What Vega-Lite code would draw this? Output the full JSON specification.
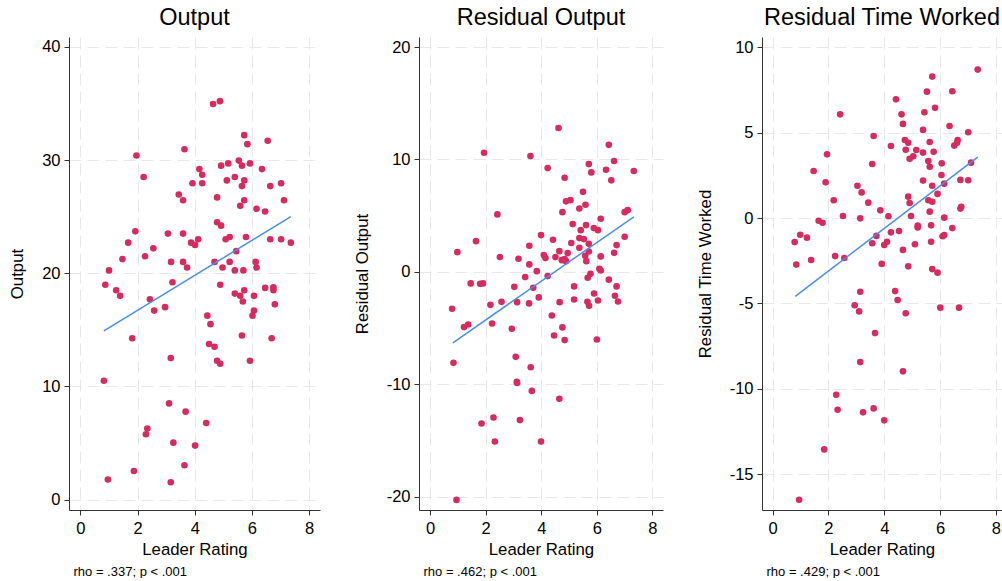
{
  "$schema": "https://vega.github.io/schema/vega-lite/v6.json",
  "padding": {"left": 9, "top": 5, "right": 0, "bottom": 0},
  "background": "white",
  "spacing": 34,
  "config": {
    "font": "Liberation Sans",
    "view": {"stroke": null},
    "axis": {
      "domainColor": "#333333",
      "tickColor": "#333333",
      "tickSize": 5,
      "labelFontSize": 16.5,
      "titleFontSize": 16.8,
      "labelColor": "#000000",
      "titleColor": "#000000",
      "titleFontWeight": "normal",
      "gridColor": "#e8e8e8",
      "gridDash": [12, 6],
      "gridWidth": 1,
      "labelExpr": "'' + datum.value"
    },
    "axisX": {"labelPadding": 5, "titlePadding": 5},
    "axisY": {"labelPadding": 4, "titlePadding": 15, "labelFlush": false},
    "title": {"fontSize": 23.5, "fontWeight": "normal", "color": "#000000", "anchor": "middle", "frame": "group", "offset": 8}
  },
  "datasets": {
    "p1": [
      {"x": 4.64, "y": 34.95}, {"x": 4.88, "y": 35.2}, {"x": 5.73, "y": 32.2}, {"x": 5.84, "y": 31.4}, {"x": 6.55, "y": 31.7},
      {"x": 3.64, "y": 30.95}, {"x": 1.96, "y": 30.4}, {"x": 5.54, "y": 29.95}, {"x": 5.17, "y": 29.7}, {"x": 4.92, "y": 29.5},
      {"x": 5.65, "y": 29.5}, {"x": 5.93, "y": 29.7}, {"x": 4.16, "y": 29.2}, {"x": 6.35, "y": 29.2}, {"x": 4.26, "y": 28.7},
      {"x": 2.21, "y": 28.5}, {"x": 5.12, "y": 28.2}, {"x": 5.4, "y": 28.5}, {"x": 5.73, "y": 28.2}, {"x": 3.92, "y": 27.95},
      {"x": 4.26, "y": 27.95}, {"x": 5.65, "y": 27.7}, {"x": 6.64, "y": 27.7}, {"x": 7.02, "y": 27.95}, {"x": 3.44, "y": 26.95},
      {"x": 3.59, "y": 26.45}, {"x": 4.78, "y": 26.7}, {"x": 5.73, "y": 26.45}, {"x": 7.12, "y": 26.45}, {"x": 5.59, "y": 25.95},
      {"x": 6.16, "y": 25.7}, {"x": 6.46, "y": 25.45}, {"x": 4.78, "y": 24.5}, {"x": 4.92, "y": 24.2}, {"x": 1.92, "y": 23.7},
      {"x": 3.06, "y": 23.5}, {"x": 3.59, "y": 23.5}, {"x": 5.08, "y": 23.0}, {"x": 5.22, "y": 23.2}, {"x": 5.79, "y": 23.2},
      {"x": 6.64, "y": 23.0}, {"x": 7.02, "y": 23.0}, {"x": 7.36, "y": 22.7}, {"x": 1.67, "y": 22.7}, {"x": 3.87, "y": 22.7},
      {"x": 4.01, "y": 22.5}, {"x": 4.12, "y": 23.0}, {"x": 2.55, "y": 22.2}, {"x": 5.45, "y": 21.95}, {"x": 2.26, "y": 21.5},
      {"x": 1.47, "y": 21.25}, {"x": 3.17, "y": 21.0}, {"x": 3.59, "y": 21.0}, {"x": 3.73, "y": 20.5}, {"x": 4.69, "y": 21.0},
      {"x": 5.22, "y": 21.0}, {"x": 6.13, "y": 21.0}, {"x": 6.16, "y": 20.5}, {"x": 4.97, "y": 20.5}, {"x": 5.4, "y": 20.25},
      {"x": 5.7, "y": 20.25}, {"x": 1.0, "y": 20.25}, {"x": 3.22, "y": 19.2}, {"x": 0.87, "y": 18.98}, {"x": 1.25, "y": 18.5},
      {"x": 1.39, "y": 18.0}, {"x": 2.43, "y": 17.7}, {"x": 2.58, "y": 16.7}, {"x": 2.96, "y": 17.0}, {"x": 4.89, "y": 18.98},
      {"x": 5.4, "y": 18.2}, {"x": 5.59, "y": 18.0}, {"x": 5.73, "y": 18.5}, {"x": 5.68, "y": 17.5}, {"x": 6.07, "y": 18.0},
      {"x": 6.46, "y": 18.7}, {"x": 6.75, "y": 18.75}, {"x": 6.75, "y": 18.5}, {"x": 6.8, "y": 17.25}, {"x": 6.07, "y": 16.7},
      {"x": 6.02, "y": 16.25}, {"x": 4.44, "y": 16.25}, {"x": 4.55, "y": 15.5}, {"x": 5.65, "y": 14.5}, {"x": 6.69, "y": 14.25},
      {"x": 1.81, "y": 14.25}, {"x": 4.5, "y": 13.75}, {"x": 4.69, "y": 13.5}, {"x": 3.16, "y": 12.5}, {"x": 4.78, "y": 12.27},
      {"x": 4.89, "y": 12.0}, {"x": 5.93, "y": 12.27}, {"x": 0.82, "y": 10.5}, {"x": 3.1, "y": 8.5}, {"x": 3.68, "y": 7.77},
      {"x": 4.4, "y": 6.77}, {"x": 2.34, "y": 6.27}, {"x": 2.29, "y": 5.77}, {"x": 3.25, "y": 5.03}, {"x": 4.01, "y": 4.77},
      {"x": 3.64, "y": 3.03}, {"x": 1.87, "y": 2.53}, {"x": 0.96, "y": 1.77}, {"x": 3.16, "y": 1.53}
    ],
    "p2": [
      {"x": 4.62, "y": 12.8}, {"x": 6.43, "y": 11.3}, {"x": 1.94, "y": 10.6}, {"x": 3.61, "y": 10.3}, {"x": 6.62, "y": 9.86},
      {"x": 5.71, "y": 9.59}, {"x": 4.23, "y": 9.23}, {"x": 6.33, "y": 9.08}, {"x": 5.8, "y": 8.85}, {"x": 7.33, "y": 8.97},
      {"x": 4.84, "y": 8.37}, {"x": 6.52, "y": 8.14}, {"x": 5.5, "y": 7.12}, {"x": 4.89, "y": 6.27}, {"x": 5.05, "y": 6.38},
      {"x": 5.59, "y": 5.97}, {"x": 5.37, "y": 5.64}, {"x": 4.76, "y": 5.31}, {"x": 2.42, "y": 5.11}, {"x": 7.0, "y": 5.31},
      {"x": 7.11, "y": 5.49}, {"x": 6.14, "y": 4.72}, {"x": 5.13, "y": 4.25}, {"x": 5.61, "y": 4.16}, {"x": 5.89, "y": 3.89},
      {"x": 6.04, "y": 3.71}, {"x": 5.42, "y": 3.71}, {"x": 3.99, "y": 3.27}, {"x": 4.42, "y": 2.85}, {"x": 5.37, "y": 3.0},
      {"x": 5.53, "y": 2.91}, {"x": 1.65, "y": 2.73}, {"x": 5.08, "y": 2.56}, {"x": 5.71, "y": 2.49}, {"x": 3.57, "y": 2.32},
      {"x": 5.37, "y": 2.14}, {"x": 6.71, "y": 2.38}, {"x": 0.98, "y": 1.75}, {"x": 4.65, "y": 1.84}, {"x": 5.71, "y": 1.81},
      {"x": 4.95, "y": 1.66}, {"x": 6.62, "y": 1.69}, {"x": 4.09, "y": 1.49}, {"x": 2.51, "y": 1.31}, {"x": 4.51, "y": 1.31},
      {"x": 4.15, "y": 1.22}, {"x": 3.18, "y": 1.16}, {"x": 4.84, "y": 1.13}, {"x": 4.74, "y": 1.04}, {"x": 4.89, "y": 0.95},
      {"x": 5.58, "y": 1.43}, {"x": 6.14, "y": 1.37}, {"x": 5.62, "y": 0.95}, {"x": 3.57, "y": 0.66}, {"x": 7.0, "y": 3.12},
      {"x": 3.84, "y": 0.06}, {"x": 6.09, "y": 0.27}, {"x": 6.14, "y": 0.12}, {"x": 3.42, "y": -0.47}, {"x": 4.23, "y": -0.38},
      {"x": 5.77, "y": -0.18}, {"x": 5.67, "y": -0.53}, {"x": 6.43, "y": -0.7},
      {"x": 1.46, "y": -1.03}, {"x": 1.8, "y": -1.07}, {"x": 1.9, "y": -1.03}, {"x": 3.03, "y": -1.34}, {"x": 3.71, "y": -1.42},
      {"x": 5.18, "y": -1.3}, {"x": 6.71, "y": -1.3}, {"x": 5.9, "y": -1.93}, {"x": 6.65, "y": -2.13}, {"x": 6.76, "y": -2.64},
      {"x": 6.04, "y": -2.55}, {"x": 5.66, "y": -2.67}, {"x": 5.72, "y": -3.02}, {"x": 5.18, "y": -2.46}, {"x": 4.66, "y": -2.7},
      {"x": 3.91, "y": -2.28}, {"x": 3.56, "y": -2.81}, {"x": 3.13, "y": -2.7}, {"x": 2.57, "y": -2.67}, {"x": 2.17, "y": -2.94},
      {"x": 0.79, "y": -3.29}, {"x": 1.22, "y": -4.92}, {"x": 1.37, "y": -4.69}, {"x": 2.23, "y": -4.6}, {"x": 2.94, "y": -5.07},
      {"x": 4.38, "y": -3.89}, {"x": 4.76, "y": -4.95}, {"x": 4.46, "y": -5.67}, {"x": 4.84, "y": -6.08}, {"x": 6.0, "y": -6.02},
      {"x": 0.84, "y": -8.1}, {"x": 3.08, "y": -7.57}, {"x": 3.62, "y": -8.49}, {"x": 3.12, "y": -9.8}, {"x": 3.13, "y": -9.9},
      {"x": 3.66, "y": -10.6}, {"x": 4.65, "y": -11.3}, {"x": 2.28, "y": -12.97}, {"x": 1.85, "y": -13.5}, {"x": 3.23, "y": -13.2},
      {"x": 2.33, "y": -15.1}, {"x": 3.99, "y": -15.1}, {"x": 0.95, "y": -20.3}
    ],
    "p3": [
      {"x": 7.35, "y": 8.69}, {"x": 5.72, "y": 8.28}, {"x": 5.53, "y": 7.4}, {"x": 6.44, "y": 7.42}, {"x": 4.42, "y": 6.95},
      {"x": 2.42, "y": 6.07}, {"x": 4.62, "y": 6.07}, {"x": 5.82, "y": 6.46}, {"x": 5.44, "y": 6.19}, {"x": 4.67, "y": 5.51},
      {"x": 6.34, "y": 5.39}, {"x": 5.39, "y": 5.16}, {"x": 7.01, "y": 5.02}, {"x": 3.62, "y": 4.8}, {"x": 4.74, "y": 4.57},
      {"x": 4.86, "y": 4.41}, {"x": 5.63, "y": 4.45}, {"x": 6.63, "y": 4.57}, {"x": 6.61, "y": 4.41}, {"x": 6.51, "y": 4.24},
      {"x": 4.24, "y": 4.22}, {"x": 5.15, "y": 3.98}, {"x": 4.77, "y": 4.0}, {"x": 5.39, "y": 3.83}, {"x": 5.77, "y": 3.88},
      {"x": 5.04, "y": 3.61}, {"x": 4.91, "y": 3.47}, {"x": 5.58, "y": 3.34}, {"x": 5.63, "y": 3.0}, {"x": 1.95, "y": 3.73},
      {"x": 3.57, "y": 3.16}, {"x": 6.06, "y": 3.2}, {"x": 7.11, "y": 3.24}, {"x": 1.47, "y": 2.75}, {"x": 6.05, "y": 2.52},
      {"x": 6.73, "y": 2.23}, {"x": 7.01, "y": 2.21}, {"x": 5.39, "y": 2.19}, {"x": 1.9, "y": 2.09}, {"x": 6.15, "y": 2.01},
      {"x": 5.72, "y": 1.89}, {"x": 3.04, "y": 1.89}, {"x": 3.19, "y": 1.5}, {"x": 5.91, "y": 1.41}, {"x": 4.86, "y": 1.25},
      {"x": 2.19, "y": 1.04}, {"x": 3.43, "y": 0.9}, {"x": 4.91, "y": 0.88}, {"x": 5.58, "y": 1.04}, {"x": 5.72, "y": 0.95},
      {"x": 6.76, "y": 0.66}, {"x": 6.73, "y": 0.55}, {"x": 3.86, "y": 0.45}, {"x": 5.63, "y": 0.37}, {"x": 2.52, "y": 0.12},
      {"x": 4.15, "y": 0.1}, {"x": 4.96, "y": 0.12}, {"x": 3.14, "y": -0.02}, {"x": 6.15, "y": 0.02}, {"x": 1.65, "y": -0.16},
      {"x": 1.79, "y": -0.28}, {"x": 5.2, "y": -0.45}, {"x": 5.2, "y": -0.55}, {"x": 5.68, "y": -0.43}, {"x": 6.44, "y": -0.59},
      {"x": 0.99, "y": -0.98}, {"x": 1.23, "y": -1.15}, {"x": 0.79, "y": -1.41}, {"x": 3.72, "y": -1.05}, {"x": 4.24, "y": -0.84},
      {"x": 4.53, "y": -0.76}, {"x": 6.15, "y": -1.0}, {"x": 6.09, "y": -1.07}, {"x": 3.57, "y": -1.48}, {"x": 4.1, "y": -1.39},
      {"x": 4.0, "y": -1.58}, {"x": 5.1, "y": -1.54}, {"x": 5.68, "y": -1.39}, {"x": 4.67, "y": -1.87}, {"x": 2.24, "y": -2.23},
      {"x": 2.57, "y": -2.34}, {"x": 1.38, "y": -2.46}, {"x": 0.85, "y": -2.73}, {"x": 3.91, "y": -2.69}, {"x": 4.86, "y": -2.83},
      {"x": 5.72, "y": -2.99}, {"x": 5.91, "y": -3.2},
      {"x": 3.14, "y": -4.32}, {"x": 4.39, "y": -4.28}, {"x": 4.48, "y": -4.8}, {"x": 2.94, "y": -5.11}, {"x": 3.1, "y": -5.47},
      {"x": 6.01, "y": -5.25}, {"x": 6.68, "y": -5.25}, {"x": 4.77, "y": -5.58}, {"x": 3.67, "y": -6.74}, {"x": 3.14, "y": -8.44},
      {"x": 4.67, "y": -8.98}, {"x": 2.28, "y": -10.35}, {"x": 2.33, "y": -11.23}, {"x": 3.24, "y": -11.38}, {"x": 3.62, "y": -11.15},
      {"x": 4.0, "y": -11.85}, {"x": 1.85, "y": -13.55}, {"x": 0.95, "y": -16.5}
    ],
    "l1": [{"x": 0.82, "y": 14.9}, {"x": 7.36, "y": 25.0}],
    "l2": [{"x": 0.82, "y": -6.32}, {"x": 7.33, "y": 4.9}],
    "l3": [{"x": 0.81, "y": -4.59}, {"x": 7.35, "y": 3.57}]
  },
  "hconcat": [
    {
      "width": 251, "height": 473,
      "title": {"text": "Output"},
      "resolve": {"axis": {"x": "independent", "y": "independent"}},
      "layer": [
        {
          "data": {"name": "p1"},
          "mark": {"type": "circle", "size": 44, "color": "#d62b5e", "opacity": 1},
          "encoding": {
            "x": {"field": "x", "type": "quantitative", "scale": {"domain": [-0.4, 8.38], "nice": false, "zero": false}, "axis": {"values": [0, 2, 4, 6, 8], "title": "Leader Rating"}},
            "y": {"field": "y", "type": "quantitative", "scale": {"domain": [-0.92, 40.87], "nice": false, "zero": false}, "axis": {"values": [0, 10, 20, 30, 40], "title": "Output"}}
          }
        },
        {
          "data": {"name": "l1"},
          "mark": {"type": "line", "color": "#4a8fe7", "strokeWidth": 1.5},
          "encoding": {
            "x": {"field": "x", "type": "quantitative", "axis": {"orient": "bottom", "labels": false, "ticks": false, "domain": false, "grid": false, "title": "rho = .337; p < .001", "titleX": 4, "titleY": 65, "titleAlign": "left", "titleBaseline": "alphabetic", "titleFontSize": 13}},
            "y": {"field": "y", "type": "quantitative", "axis": null}
          }
        }
      ]
    },
    {
      "width": 244, "height": 473,
      "title": {"text": "Residual Output"},
      "resolve": {"axis": {"x": "independent", "y": "independent"}},
      "layer": [
        {
          "data": {"name": "p2"},
          "mark": {"type": "circle", "size": 44, "color": "#d62b5e", "opacity": 1},
          "encoding": {
            "x": {"field": "x", "type": "quantitative", "scale": {"domain": [-0.4, 8.38], "nice": false, "zero": false}, "axis": {"values": [0, 2, 4, 6, 8], "title": "Leader Rating"}},
            "y": {"field": "y", "type": "quantitative", "scale": {"domain": [-21.2, 20.9], "nice": false, "zero": false}, "axis": {"values": [-20, -10, 0, 10, 20], "title": "Residual Output"}}
          }
        },
        {
          "data": {"name": "l2"},
          "mark": {"type": "line", "color": "#4a8fe7", "strokeWidth": 1.5},
          "encoding": {
            "x": {"field": "x", "type": "quantitative", "axis": {"orient": "bottom", "labels": false, "ticks": false, "domain": false, "grid": false, "title": "rho = .462; p < .001", "titleX": 4, "titleY": 65, "titleAlign": "left", "titleBaseline": "alphabetic", "titleFontSize": 13}},
            "y": {"field": "y", "type": "quantitative", "axis": null}
          }
        }
      ]
    },
    {
      "width": 240, "height": 473,
      "title": {"text": "Residual Time Worked"},
      "resolve": {"axis": {"x": "independent", "y": "independent"}},
      "layer": [
        {
          "data": {"name": "p3"},
          "mark": {"type": "circle", "size": 44, "color": "#d62b5e", "opacity": 1},
          "encoding": {
            "x": {"field": "x", "type": "quantitative", "scale": {"domain": [-0.38, 8.22], "nice": false, "zero": false}, "axis": {"values": [0, 2, 4, 6, 8], "title": "Leader Rating"}},
            "y": {"field": "y", "type": "quantitative", "scale": {"domain": [-17.1, 10.6], "nice": false, "zero": false}, "axis": {"values": [-15, -10, -5, 0, 5, 10], "title": "Residual Time Worked"}}
          }
        },
        {
          "data": {"name": "l3"},
          "mark": {"type": "line", "color": "#4a8fe7", "strokeWidth": 1.5},
          "encoding": {
            "x": {"field": "x", "type": "quantitative", "axis": {"orient": "bottom", "labels": false, "ticks": false, "domain": false, "grid": false, "title": "rho = .429; p < .001", "titleX": 4, "titleY": 65, "titleAlign": "left", "titleBaseline": "alphabetic", "titleFontSize": 13}},
            "y": {"field": "y", "type": "quantitative", "axis": null}
          }
        }
      ]
    }
  ]
}
